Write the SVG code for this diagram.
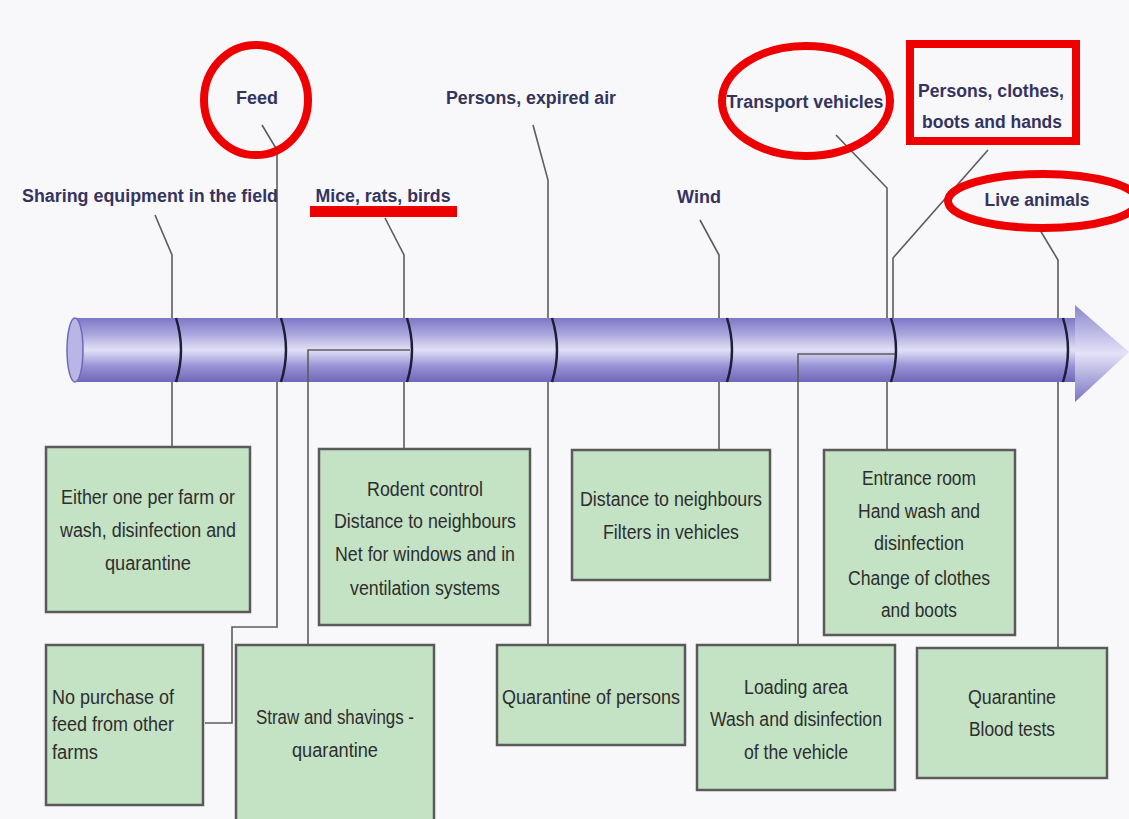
<svg xmlns="http://www.w3.org/2000/svg" width="1129" height="819" viewBox="0 0 1129 819">
<style>
.lbl{font-family:"Liberation Sans",Arial,sans-serif;font-weight:bold;font-size:18px;fill:#34345e;text-anchor:middle}
.bt{font-family:"Liberation Sans",Arial,sans-serif;font-size:20px;fill:#2e2e2e;text-anchor:middle}
.box{fill:#c4e2c4;stroke:#5a5a5a;stroke-width:2.5}
.con{fill:none;stroke:#5c5c5c;stroke-width:1.6}
.ring{fill:none;stroke:#1e1e38;stroke-width:2.5}
.red{fill:none;stroke:#ee0000;stroke-width:8}
</style>
<defs>
<linearGradient id="tube" x1="0" y1="0" x2="0" y2="1">
<stop offset="0" stop-color="#7c78c6"/>
<stop offset="0.25" stop-color="#a9a6de"/>
<stop offset="0.5" stop-color="#e2e0f6"/>
<stop offset="0.75" stop-color="#9893d6"/>
<stop offset="1" stop-color="#6e69b8"/>
</linearGradient>
<linearGradient id="head" x1="0" y1="0" x2="0" y2="1">
<stop offset="0" stop-color="#8a86cf"/>
<stop offset="0.5" stop-color="#e4e2f7"/>
<stop offset="1" stop-color="#7a75c2"/>
</linearGradient>
</defs>
<rect width="1129" height="819" fill="#f8f8fb"/>

<g id="connectors">
<polyline class="con" points="155,215 172,255 172,447"/>
<polyline class="con" points="262,125 277,150 277,627 232,627 232,723 205,723"/>
<polyline class="con" points="385,218 404,255 404,449"/>
<polyline class="con" points="533,125 548,180 548,645"/>
<polyline class="con" points="700,220 719,255 719,450"/>
<polyline class="con" points="836,135 887,188 887,450"/>
<polyline class="con" points="988,150 893,258 893,330"/>
<polyline class="con" points="1040,230 1058,260 1058,648"/>
</g>

<g id="tube-arrow">
<rect x="75" y="318" width="1002" height="64" fill="url(#tube)"/>
<polygon points="1075,305 1129,352 1075,402" fill="url(#head)"/>
<ellipse cx="75" cy="350" rx="8" ry="32" fill="#b9b6e6" stroke="#6e69b8" stroke-width="1.5"/>
<path class="ring" d="M176,318 Q186,350 176,382"/>
<path class="ring" d="M281,318 Q291,350 281,382"/>
<path class="ring" d="M407,318 Q417,350 407,382"/>
<path class="ring" d="M552,318 Q562,350 552,382"/>
<path class="ring" d="M727,318 Q737,350 727,382"/>
<path class="ring" d="M891,318 Q901,350 891,382" stroke-width="4"/>
<path class="ring" d="M1063,318 Q1073,350 1063,382"/>
</g>

<g id="connectors-front">
<polyline class="con" points="410,350 308,350 308,645"/>
<polyline class="con" points="895,354 798,354 798,645"/>
</g>

<g id="labels">
<text class="lbl" x="257" y="104">Feed</text>
<text class="lbl" x="150" y="202" textLength="256" lengthAdjust="spacingAndGlyphs">Sharing equipment in the field</text>
<text class="lbl" x="383" y="202" textLength="135" lengthAdjust="spacingAndGlyphs">Mice, rats, birds</text>
<text class="lbl" x="531" y="104" textLength="170" lengthAdjust="spacingAndGlyphs">Persons, expired air</text>
<text class="lbl" x="699" y="203">Wind</text>
<text class="lbl" x="805" y="108" textLength="157" lengthAdjust="spacingAndGlyphs">Transport vehicles</text>
<text class="lbl" x="991" y="97" textLength="146" lengthAdjust="spacingAndGlyphs">Persons, clothes,</text>
<text class="lbl" x="992" y="128" textLength="140" lengthAdjust="spacingAndGlyphs">boots and hands</text>
<text class="lbl" x="1037" y="206" textLength="105" lengthAdjust="spacingAndGlyphs">Live animals</text>
</g>

<g id="box-sharing">
<rect class="box" x="46" y="447" width="204" height="165"/>
<text class="bt" x="148" y="504" textLength="174" lengthAdjust="spacingAndGlyphs">Either one per farm or</text>
<text class="bt" x="148" y="537" textLength="176" lengthAdjust="spacingAndGlyphs">wash, disinfection and</text>
<text class="bt" x="148" y="570" textLength="86" lengthAdjust="spacingAndGlyphs">quarantine</text>
</g>
<g id="box-feed">
<rect class="box" x="46" y="645" width="157" height="160"/>
<text class="bt" x="52" y="704" style="text-anchor:start" textLength="122" lengthAdjust="spacingAndGlyphs">No purchase of</text>
<text class="bt" x="52" y="731" style="text-anchor:start" textLength="122" lengthAdjust="spacingAndGlyphs">feed from other</text>
<text class="bt" x="52" y="759" style="text-anchor:start" textLength="46" lengthAdjust="spacingAndGlyphs">farms</text>
</g>
<g id="box-straw">
<rect class="box" x="236" y="645" width="198" height="180"/>
<text class="bt" x="335" y="724" textLength="158" lengthAdjust="spacingAndGlyphs">Straw and shavings -</text>
<text class="bt" x="335" y="757" textLength="86" lengthAdjust="spacingAndGlyphs">quarantine</text>
</g>
<g id="box-rodent">
<rect class="box" x="319" y="449" width="211" height="176"/>
<text class="bt" x="425" y="496" textLength="116" lengthAdjust="spacingAndGlyphs">Rodent control</text>
<text class="bt" x="425" y="528" textLength="182" lengthAdjust="spacingAndGlyphs">Distance to neighbours</text>
<text class="bt" x="425" y="561" textLength="180" lengthAdjust="spacingAndGlyphs">Net for windows and in</text>
<text class="bt" x="425" y="595" textLength="150" lengthAdjust="spacingAndGlyphs">ventilation systems</text>
</g>
<g id="box-persons">
<rect class="box" x="497" y="645" width="188" height="100"/>
<text class="bt" x="591" y="704" textLength="178" lengthAdjust="spacingAndGlyphs">Quarantine of persons</text>
</g>
<g id="box-wind">
<rect class="box" x="572" y="450" width="198" height="130"/>
<text class="bt" x="671" y="506" textLength="182" lengthAdjust="spacingAndGlyphs">Distance to neighbours</text>
<text class="bt" x="671" y="539" textLength="136" lengthAdjust="spacingAndGlyphs">Filters in vehicles</text>
</g>
<g id="box-loading">
<rect class="box" x="697" y="645" width="198" height="145"/>
<text class="bt" x="796" y="694" textLength="104" lengthAdjust="spacingAndGlyphs">Loading area</text>
<text class="bt" x="796" y="726" textLength="172" lengthAdjust="spacingAndGlyphs">Wash and disinfection</text>
<text class="bt" x="796" y="759" textLength="104" lengthAdjust="spacingAndGlyphs">of the vehicle</text>
</g>
<g id="box-entrance">
<rect class="box" x="824" y="450" width="191" height="185"/>
<text class="bt" x="919" y="485" textLength="114" lengthAdjust="spacingAndGlyphs">Entrance room</text>
<text class="bt" x="919" y="518" textLength="122" lengthAdjust="spacingAndGlyphs">Hand wash and</text>
<text class="bt" x="919" y="550" textLength="90" lengthAdjust="spacingAndGlyphs">disinfection</text>
<text class="bt" x="919" y="585" textLength="142" lengthAdjust="spacingAndGlyphs">Change of clothes</text>
<text class="bt" x="919" y="617" textLength="76" lengthAdjust="spacingAndGlyphs">and boots</text>
</g>
<g id="box-live">
<rect class="box" x="917" y="648" width="190" height="130"/>
<text class="bt" x="1012" y="704" textLength="88" lengthAdjust="spacingAndGlyphs">Quarantine</text>
<text class="bt" x="1012" y="736" textLength="86" lengthAdjust="spacingAndGlyphs">Blood tests</text>
</g>

<g id="annotations">
<ellipse class="red" cx="256" cy="100" rx="52" ry="55"/>
<rect x="310" y="206" width="147" height="11" fill="#ee0000"/>
<ellipse class="red" cx="806" cy="101" rx="84" ry="55"/>
<rect class="red" x="910" y="44" width="166" height="97" stroke-width="7"/>
<ellipse class="red" cx="1043" cy="201" rx="95" ry="27" stroke-width="7"/>
</g>
</svg>
